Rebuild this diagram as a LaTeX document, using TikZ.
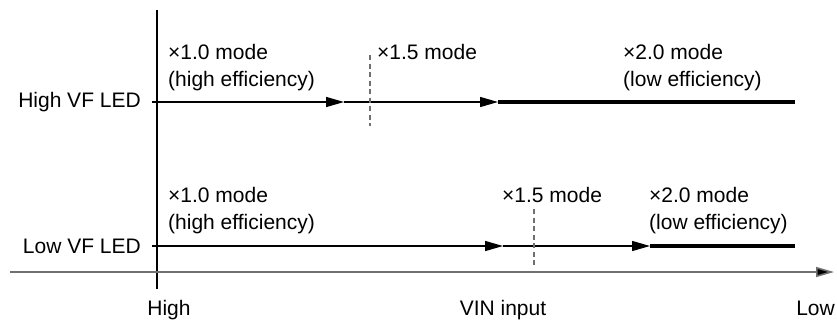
\documentclass[tikz,border=0pt]{standalone}
\usepackage{fontspec}
\setmainfont{Liberation Sans}
\usetikzlibrary{arrows.meta}
\definecolor{axisgray}{HTML}{707070}
\tikzset{
  lbl/.style={inner sep=0pt, font=\fontsize{21}{27}\selectfont, align=left},
  thinline/.style={line width=1.4pt, black},
  thickline/.style={line width=4pt, black},
  arr/.style={-{Triangle[length=18pt,width=10pt]}},
  guide/.style={line width=1.2pt, axisgray, dash pattern=on 5pt off 3.5pt},
}
\begin{document}
\begin{tikzpicture}[x=1pt,y=-1pt]
\useasboundingbox (0,0) rectangle (837,322);
% axes
\coordinate (vt) at (157,10);
\coordinate (vb) at (157,289);
\coordinate (hl) at (10,272);
\coordinate (hr) at (834,272);
\draw[line width=1.3pt] (vt) -- (vb);
\draw[line width=1.6pt, axisgray, -{Triangle[length=18pt,width=10pt,fill=black]}, color=axisgray] (hl) -- (hr);
% row labels
\node[lbl, anchor=east] (hvf) at (141,102) {High VF LED};
\node[lbl, anchor=east] (lvf) at (141,246) {Low VF LED};
% bottom labels
\node[lbl, anchor=base] (high) at (169,315) {High};
\node[lbl, anchor=base] (vin) at (503,315) {VIN input};
\node[lbl, anchor=base east] (low) at (835,315) {Low};
% High VF LED line
\coordinate (h0) at (152,102);
\coordinate (h1) at (344,102);
\coordinate (h2) at (498,102);
\coordinate (h3) at (795,102);
\draw[thinline, arr] (h0) -- (h1);
\draw[thinline, arr] (h1) -- (h2);
\draw[thickline] (h2) -- (h3);
\coordinate (hd0) at (370,55);
\coordinate (hd1) at (370,126);
\draw[guide] (hd0) -- (hd1);
% Low VF LED line
\coordinate (l0) at (152,246);
\coordinate (l1) at (503,246);
\coordinate (l2) at (650,246);
\coordinate (l3) at (795,246);
\draw[thinline, arr] (l0) -- (l1);
\draw[thinline, arr] (l1) -- (l2);
\draw[thickline] (l2) -- (l3);
\coordinate (ld0) at (534,209);
\coordinate (ld1) at (534,268);
\draw[guide] (ld0) -- (ld1);
% mode labels (top)
\node[lbl, anchor=north west] (t10) at (168,44) {×1.0 mode\\(high efficiency)};
\node[lbl, anchor=north west] (t15) at (377,44) {×1.5 mode};
\node[lbl, anchor=north west] (t20) at (623,44) {×2.0 mode\\(low efficiency)};
% mode labels (bottom)
\node[lbl, anchor=north west] (b10) at (168,187) {×1.0 mode\\(high efficiency)};
\node[lbl, anchor=north west] (b15) at (502,187) {×1.5 mode};
\node[lbl, anchor=north west] (b20) at (649,187) {×2.0 mode\\(low efficiency)};
\end{tikzpicture}
\end{document}
